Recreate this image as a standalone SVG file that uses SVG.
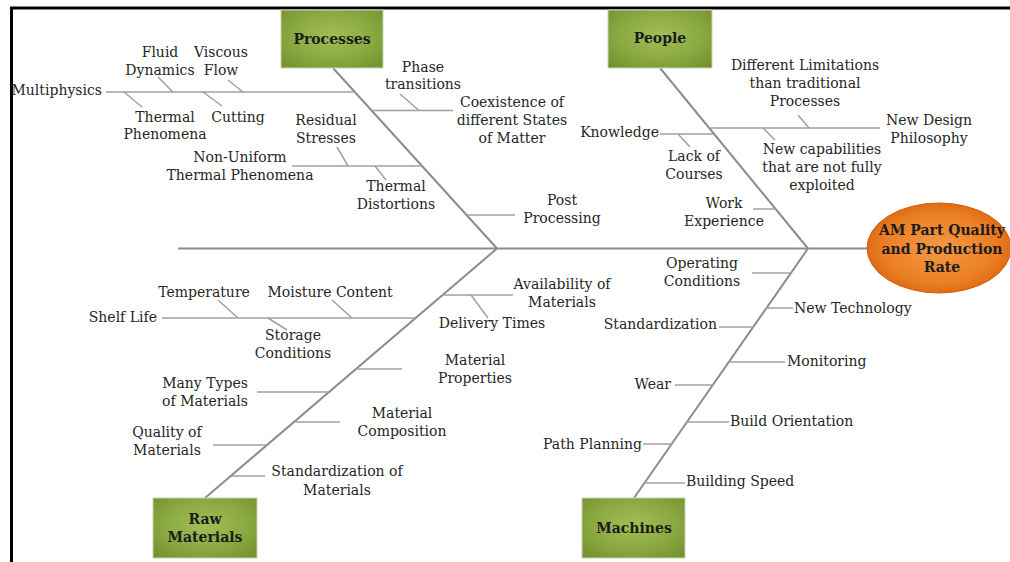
<svg xmlns="http://www.w3.org/2000/svg" width="1010" height="562" viewBox="0 0 1010 562">
  <defs>
    <radialGradient id="boxFill" cx="50%" cy="45%" r="70%">
      <stop offset="0" stop-color="#a3bf56"/>
      <stop offset="0.55" stop-color="#8caa42"/>
      <stop offset="1" stop-color="#72922f"/>
    </radialGradient>
    <radialGradient id="headFill" cx="50%" cy="50%" r="55%">
      <stop offset="0" stop-color="#f49a45"/>
      <stop offset="0.7" stop-color="#ec7f25"/>
      <stop offset="1" stop-color="#d9650e"/>
    </radialGradient>
    <style>
      .lbl { font-family: "DejaVu Serif", "Liberation Serif", serif; font-size: 14px; fill: #262626; }
      .ttl { font-family: "DejaVu Serif", "Liberation Serif", serif; font-size: 14px; font-weight: bold; fill: #1c1c1c; text-anchor: middle; }
      .mid { text-anchor: middle; }
      .end { text-anchor: end; }
      .bone { stroke: #8c8c8c; stroke-width: 2; fill: none; }
      .twig { stroke: #a0a0a0; stroke-width: 1.5; fill: none; }
      .box { fill: url(#boxFill); stroke: #c9d4b0; stroke-width: 1; }
    </style>
  </defs>

  <rect width="1010" height="562" fill="#ffffff"/>

  <!-- frame -->
  <line x1="10" y1="8" x2="1010" y2="8" stroke="#000" stroke-width="3"/>
  <line x1="11.5" y1="7" x2="11.5" y2="562" stroke="#000" stroke-width="3"/>

  <!-- connectors -->
  <g id="connectors">
    <!-- spine and main bones -->
    <line class="bone" x1="178" y1="248.5" x2="868" y2="248.5"/>
    <line class="bone" x1="333" y1="68" x2="497" y2="248.5"/>
    <line class="bone" x1="660" y1="68" x2="808" y2="248.5"/>
    <line class="bone" x1="205" y1="498" x2="497" y2="248.5"/>
    <line class="bone" x1="634" y1="498" x2="808" y2="248.5"/>

    <!-- Processes branches -->
    <line class="twig" x1="106" y1="92" x2="355" y2="92"/>
    <line class="twig" x1="158" y1="77" x2="173" y2="92"/>
    <line class="twig" x1="228" y1="80" x2="243" y2="92"/>
    <line class="twig" x1="124" y1="92" x2="142" y2="107"/>
    <line class="twig" x1="203" y1="92" x2="222" y2="106"/>
    <line class="twig" x1="372" y1="110.5" x2="453" y2="110.5"/>
    <line class="twig" x1="400" y1="94" x2="419" y2="110.5"/>
    <line class="twig" x1="292" y1="166" x2="422" y2="166"/>
    <line class="twig" x1="337" y1="147" x2="348" y2="166"/>
    <line class="twig" x1="375" y1="166" x2="386" y2="180"/>
    <line class="twig" x1="467" y1="215" x2="515" y2="215"/>

    <!-- People branches -->
    <line class="twig" x1="660" y1="134" x2="713" y2="134"/>
    <line class="twig" x1="678" y1="134" x2="690" y2="147"/>
    <line class="twig" x1="709" y1="128" x2="880" y2="128"/>
    <line class="twig" x1="798" y1="115" x2="809" y2="128"/>
    <line class="twig" x1="763" y1="128" x2="775" y2="140"/>
    <line class="twig" x1="753" y1="209" x2="776" y2="209"/>

    <!-- Raw Materials branches -->
    <line class="twig" x1="162" y1="318" x2="415" y2="318"/>
    <line class="twig" x1="218" y1="300" x2="238" y2="318"/>
    <line class="twig" x1="332" y1="300" x2="352" y2="318"/>
    <line class="twig" x1="268" y1="318" x2="287" y2="330"/>
    <line class="twig" x1="442" y1="295" x2="513" y2="295"/>
    <line class="twig" x1="471" y1="295" x2="488" y2="318"/>
    <line class="twig" x1="356" y1="369" x2="402" y2="369"/>
    <line class="twig" x1="257" y1="392" x2="329" y2="392"/>
    <line class="twig" x1="294" y1="422" x2="340" y2="422"/>
    <line class="twig" x1="213" y1="445" x2="267" y2="445"/>
    <line class="twig" x1="231" y1="476" x2="265" y2="476"/>

    <!-- Machines branches -->
    <line class="twig" x1="752" y1="273" x2="791" y2="273"/>
    <line class="twig" x1="766" y1="308" x2="793" y2="308"/>
    <line class="twig" x1="719" y1="327" x2="753" y2="327"/>
    <line class="twig" x1="729" y1="362" x2="785" y2="362"/>
    <line class="twig" x1="675" y1="385" x2="713" y2="385"/>
    <line class="twig" x1="687" y1="422" x2="729" y2="422"/>
    <line class="twig" x1="643" y1="444" x2="672" y2="444"/>
    <line class="twig" x1="644" y1="483" x2="685" y2="483"/>
  </g>

  <!-- category boxes -->
  <g id="processes">
    <rect class="box" x="281" y="10" width="102" height="58"/>
    <text class="ttl" x="332" y="44">Processes</text>
  </g>
  <g id="people">
    <rect class="box" x="608" y="10" width="104" height="58"/>
    <text class="ttl" x="660" y="43">People</text>
  </g>
  <g id="raw-materials">
    <rect class="box" x="153" y="498" width="104" height="60"/>
    <text class="ttl" x="205" y="524">Raw</text>
    <text class="ttl" x="205" y="542">Materials</text>
  </g>
  <g id="machines">
    <rect class="box" x="582" y="498" width="103" height="60"/>
    <text class="ttl" x="634" y="533">Machines</text>
  </g>

  <!-- effect -->
  <g id="effect">
    <ellipse cx="939" cy="248" rx="72" ry="45" fill="url(#headFill)" stroke="#d0600c" stroke-width="1"/>
    <text class="ttl" x="942" y="235">AM Part Quality</text>
    <text class="ttl" x="942" y="254">and Production</text>
    <text class="ttl" x="942" y="272">Rate</text>
  </g>

  <!-- Processes causes -->
  <g id="processes-causes">
    <text class="lbl end" x="102" y="95">Multiphysics</text>
    <text class="lbl mid" x="160" y="57">Fluid</text>
    <text class="lbl mid" x="160" y="75">Dynamics</text>
    <text class="lbl mid" x="221" y="57">Viscous</text>
    <text class="lbl mid" x="221" y="75">Flow</text>
    <text class="lbl mid" x="165" y="122">Thermal</text>
    <text class="lbl mid" x="165" y="139">Phenomena</text>
    <text class="lbl mid" x="238" y="122">Cutting</text>
    <text class="lbl mid" x="326" y="125">Residual</text>
    <text class="lbl mid" x="326" y="143">Stresses</text>
    <text class="lbl mid" x="240" y="162">Non-Uniform</text>
    <text class="lbl mid" x="240" y="180">Thermal Phenomena</text>
    <text class="lbl mid" x="396" y="191">Thermal</text>
    <text class="lbl mid" x="396" y="209">Distortions</text>
    <text class="lbl mid" x="423" y="72">Phase</text>
    <text class="lbl mid" x="423" y="89">transitions</text>
    <text class="lbl mid" x="512" y="107">Coexistence of</text>
    <text class="lbl mid" x="512" y="125">different States</text>
    <text class="lbl mid" x="512" y="143">of Matter</text>
    <text class="lbl mid" x="562" y="205">Post</text>
    <text class="lbl mid" x="562" y="223">Processing</text>
  </g>

  <!-- People causes -->
  <g id="people-causes">
    <text class="lbl end" x="659" y="137">Knowledge</text>
    <text class="lbl mid" x="694" y="161">Lack of</text>
    <text class="lbl mid" x="694" y="179">Courses</text>
    <text class="lbl mid" x="724" y="208">Work</text>
    <text class="lbl mid" x="724" y="226">Experience</text>
    <text class="lbl mid" x="805" y="70">Different Limitations</text>
    <text class="lbl mid" x="805" y="88">than traditional</text>
    <text class="lbl mid" x="805" y="106">Processes</text>
    <text class="lbl mid" x="822" y="154">New capabilities</text>
    <text class="lbl mid" x="822" y="172">that are not fully</text>
    <text class="lbl mid" x="822" y="190">exploited</text>
    <text class="lbl mid" x="929" y="125">New Design</text>
    <text class="lbl mid" x="929" y="143">Philosophy</text>
  </g>

  <!-- Raw Materials causes -->
  <g id="raw-materials-causes">
    <text class="lbl end" x="157" y="322">Shelf Life</text>
    <text class="lbl mid" x="204" y="297">Temperature</text>
    <text class="lbl mid" x="330" y="297">Moisture Content</text>
    <text class="lbl mid" x="293" y="340">Storage</text>
    <text class="lbl mid" x="293" y="358">Conditions</text>
    <text class="lbl mid" x="562" y="289">Availability of</text>
    <text class="lbl mid" x="562" y="307">Materials</text>
    <text class="lbl mid" x="492" y="328">Delivery Times</text>
    <text class="lbl mid" x="475" y="365">Material</text>
    <text class="lbl mid" x="475" y="383">Properties</text>
    <text class="lbl mid" x="205" y="388">Many Types</text>
    <text class="lbl mid" x="205" y="406">of Materials</text>
    <text class="lbl mid" x="402" y="418">Material</text>
    <text class="lbl mid" x="402" y="436">Composition</text>
    <text class="lbl mid" x="167" y="437">Quality of</text>
    <text class="lbl mid" x="167" y="455">Materials</text>
    <text class="lbl mid" x="337" y="476">Standardization of</text>
    <text class="lbl mid" x="337" y="495">Materials</text>
  </g>

  <!-- Machines causes -->
  <g id="machines-causes">
    <text class="lbl mid" x="702" y="268">Operating</text>
    <text class="lbl mid" x="702" y="286">Conditions</text>
    <text class="lbl" x="794" y="313">New Technology</text>
    <text class="lbl end" x="717" y="329">Standardization</text>
    <text class="lbl" x="787" y="366">Monitoring</text>
    <text class="lbl end" x="671" y="389">Wear</text>
    <text class="lbl" x="730" y="426">Build Orientation</text>
    <text class="lbl end" x="642" y="449">Path Planning</text>
    <text class="lbl" x="686" y="486">Building Speed</text>
  </g>
</svg>
